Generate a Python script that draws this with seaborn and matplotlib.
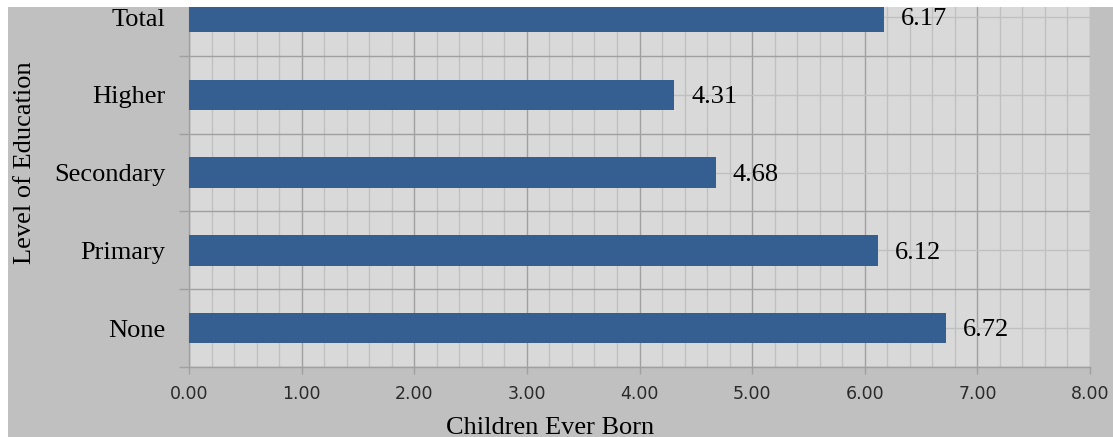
import matplotlib
matplotlib.use("Agg")
import matplotlib.pyplot as plt
import matplotlib.patches as mpatches
from matplotlib.ticker import MultipleLocator, FixedLocator
import pandas as pd
import seaborn as sns

# data (top to bottom as shown)
levels = ["Total", "Higher", "Secondary", "Primary", "None"]
ceb = [6.17, 4.31, 4.68, 6.12, 6.72]
xticks = [0, 1, 2, 3, 4, 5, 6, 7, 8]

df = pd.DataFrame({"Level of Education": levels, "Children Ever Born": ceb})

sns.set_style("white")
plt.rcParams["font.family"] = ["Liberation Serif", "DejaVu Serif"]
plt.rcParams["text.color"] = "black"
plt.rcParams["axes.labelcolor"] = "black"
plt.rcParams["ytick.labelcolor"] = "black"

W, H = 1113, 437
fig = plt.figure(figsize=(W / 100, H / 100), dpi=100, facecolor="#c0c0c0")
ax = fig.add_axes([189 / W, (H - 367) / H, (1090 - 189) / W, (367 - 7) / H])
ax.set_facecolor("#d9d9d9")

sns.barplot(data=df, x="Children Ever Born", y="Level of Education", order=levels,
            orient="h", color="#365f91", saturation=1, width=0.39, ax=ax,
            linewidth=0, edgecolor="none", zorder=3)

ax.set_xlim(0, 8)
ax.set_ylim(4.5, -0.13)

# grid: x major every 1, minor every 0.2; y light at centres, dark at boundaries
ax.xaxis.set_major_locator(FixedLocator(xticks))
ax.xaxis.set_minor_locator(MultipleLocator(0.2))
ax.yaxis.set_minor_locator(FixedLocator([i + 0.5 for i in range(-1, len(levels))]))
ax.grid(True, which="major", axis="x", color="#a0a0a0", lw=1.0, zorder=0)
ax.grid(True, which="minor", axis="x", color="#c0c0c0", lw=1.0, zorder=0)
ax.grid(True, which="major", axis="y", color="#c0c0c0", lw=1.0, zorder=0)
ax.grid(True, which="minor", axis="y", color="#a0a0a0", lw=1.0, zorder=0)
ax.set_axisbelow(True)

ax.set_xticklabels([f"{v:.2f}" for v in xticks])
ax.tick_params(axis="x", which="major", direction="out", length=5, width=1,
               color="#a0a0a0", labelsize=12.5, labelcolor="#2a2a2a", pad=8,
               bottom=True)
for lab in ax.get_xticklabels():
    lab.set_fontfamily("DejaVu Sans")
ax.tick_params(axis="x", which="minor", length=0)
ax.tick_params(axis="y", which="major", length=0, labelsize=19, pad=17,
               labelcolor="black")
ax.tick_params(axis="y", which="minor", direction="out", length=7, width=1,
               color="#a0a0a0", left=True)

for s in ["top", "right"]:
    ax.spines[s].set_visible(False)
for s in ["left", "bottom"]:
    ax.spines[s].set_color("#a0a0a0")
    ax.spines[s].set_linewidth(1)

# value labels
for c in ax.containers:
    for bar, v in zip(c, ceb):
        ax.text(bar.get_width() + 0.15, bar.get_y() + bar.get_height() / 2 + 0.03,
                f"{v:.2f}", va="center", ha="left", fontsize=19, color="black",
                zorder=4)

ax.set_ylabel("")
fig.text(25 / W, 1 - 163 / H, "Level of Education", rotation=90,
         ha="center", va="center", fontsize=19, color="black")
ax.set_xlabel("Children Ever Born", fontsize=19, color="black")
ax.xaxis.set_label_coords((550 - 189) / (1090 - 189), -(417 - 367) / (367 - 7))
ax.xaxis.label.set_va("top")

# white strips at top and left of the image
fig.patches.append(mpatches.Rectangle((0, 1 - 7 / H), 1, 7 / H, transform=fig.transFigure,
                                      facecolor="white", edgecolor="none", zorder=10))
fig.patches.append(mpatches.Rectangle((0, 0), 8 / W, 1, transform=fig.transFigure,
                                      facecolor="white", edgecolor="none", zorder=10))

fig.savefig("out.png", dpi=100, facecolor=fig.get_facecolor())
